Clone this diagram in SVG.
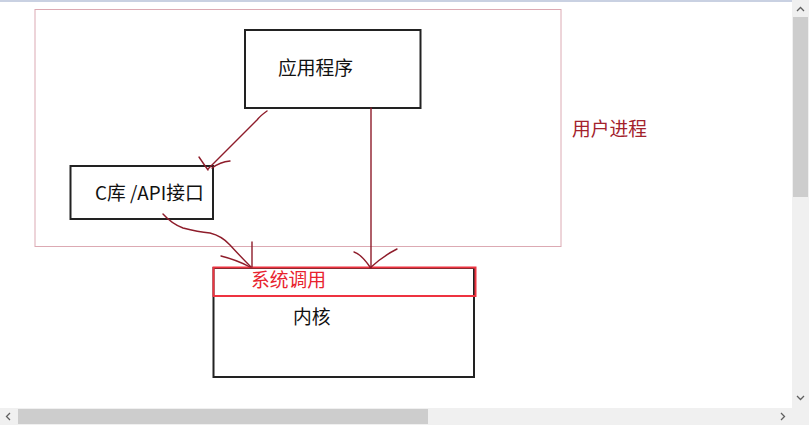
<svg xmlns="http://www.w3.org/2000/svg" width="809" height="425" viewBox="0 0 809 425">
<style>
.box{fill:none;stroke:#222;stroke-width:2}
.t{font-family:"Noto Sans CJK SC","Liberation Sans",sans-serif;font-size:18.8px;fill:#111}
.red{fill:#e8232f}
.dred{fill:#a3222c}
.con{fill:none;stroke:#8e1c2a;stroke-width:1.4;stroke-linecap:round;stroke-linejoin:round}
.chev{fill:none;stroke:#606060;stroke-width:1.3}
</style>
<rect width="809" height="425" fill="#fff"/>
<rect x="0" y="0" width="792" height="2" fill="#c9d1e2"/>

<g id="user-process">
<rect x="35" y="9.5" width="526" height="237" fill="none" stroke="#dcaab3" stroke-width="1"/>
<text class="t dred" x="572" y="136">用户进程</text>
</g>

<g id="app">
<rect class="box" x="245" y="30" width="175.5" height="78"/>
<text class="t" x="278" y="75">应用程序</text>
</g>

<g id="clib">
<rect class="box" x="70.5" y="166" width="142.5" height="53"/>
<text class="t" x="95" y="200">C库 /API接口</text>
</g>

<g id="kernel">
<rect class="box" x="213.5" y="268" width="260.5" height="109"/>
<rect x="213.5" y="267.5" width="262" height="28.5" fill="none" stroke="#ee3340" stroke-width="2"/>
<text class="t red" x="251" y="287">系统调用</text>
<text class="t" x="293" y="324">内核</text>
</g>

<g id="connectors">
<path class="con" d="M267,111 Q260,116 257,120 L208,169"/>
<path class="con" d="M199,157 Q203,163 208,170"/>
<path class="con" d="M230,161 Q220,162 212,168"/>
<path class="con" d="M163,214 Q172,224 183,228 Q198,232 210,233 Q222,236 230,245 Q240,256 251,267"/>
<path class="con" d="M252,242 L252,267"/>
<path class="con" d="M221,256 Q237,260 250,267"/>
<path class="con" d="M371,108 L371,268"/>
<path class="con" d="M354,252 Q361,254 370,267"/>
<path class="con" d="M397,249 Q383,256 370,268"/>
</g>

<g id="scrollbars">
<rect x="792" y="0" width="17" height="425" fill="#f0f0f0"/>
<rect x="0" y="408" width="809" height="17" fill="#f0f0f0"/>
<rect x="793" y="17" width="15" height="180" fill="#cdcdcd"/>
<rect x="18" y="409" width="410" height="15" fill="#cdcdcd"/>
<path class="chev" d="M797,11 L800.5,7.5 L804,11"/>
<path class="chev" d="M797,396 L800.5,399.5 L804,396"/>
<path class="chev" d="M10,413 L6.5,416.5 L10,420"/>
<path class="chev" d="M781,413 L784.5,416.5 L781,420"/>
</g>
</svg>
